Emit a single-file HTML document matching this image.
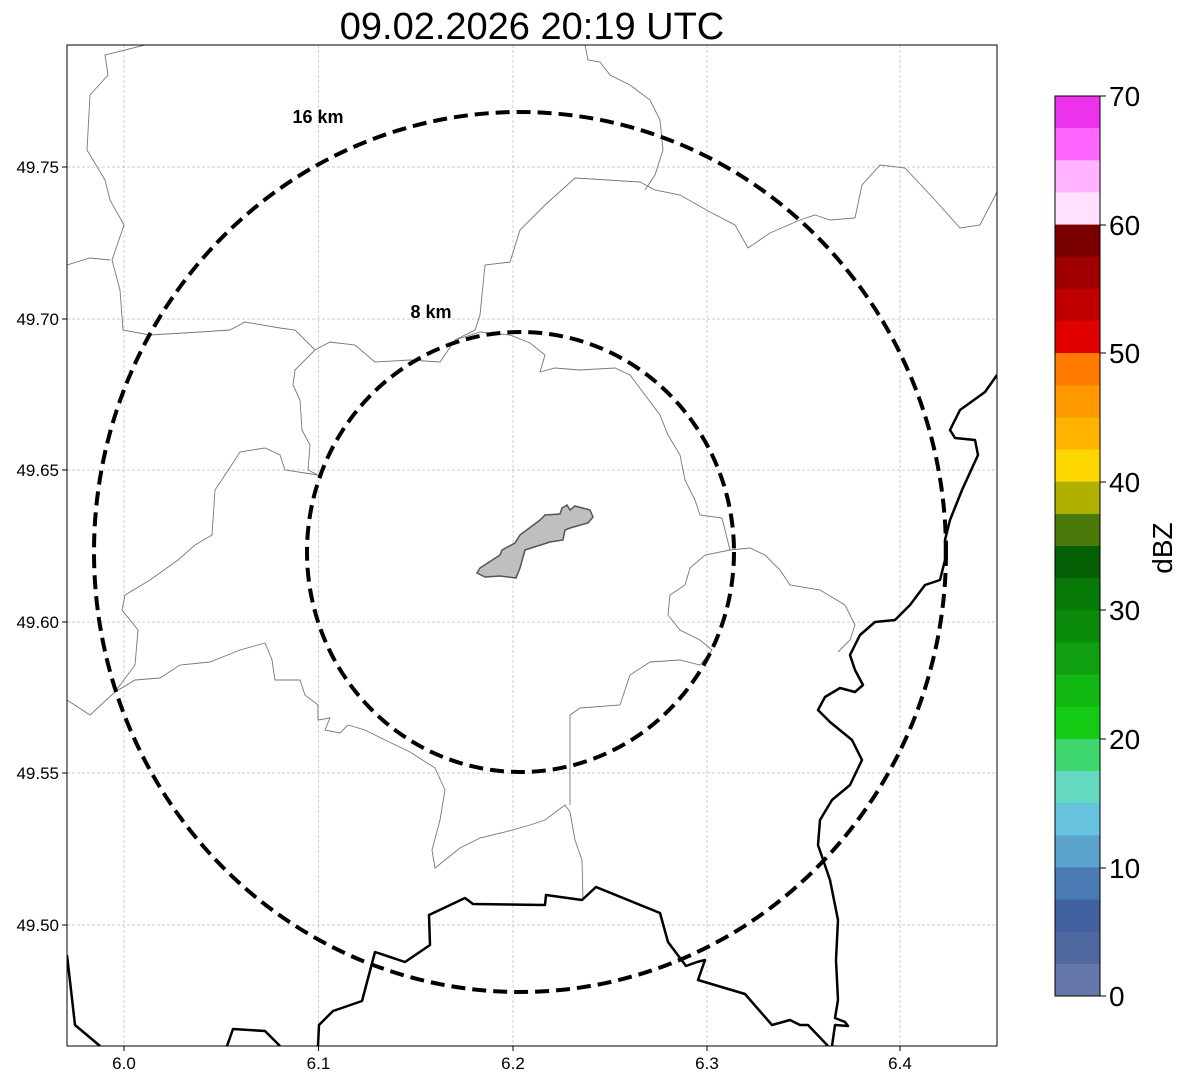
<!DOCTYPE html>
<html><head><meta charset="utf-8"><style>body{margin:0;background:#fff}svg{display:block}text{font-family:"Liberation Sans",sans-serif}</style></head><body>
<svg width="1188" height="1084" viewBox="0 0 1188 1084">
<defs><clipPath id="c"><rect x="67" y="45" width="930" height="1001"/></clipPath></defs>
<text x="532" y="39" font-size="38" text-anchor="middle">09.02.2026 20:19 UTC</text>
<g stroke="#bbb" stroke-width="0.7" stroke-dasharray="3,2">
<line x1="124" y1="45" x2="124" y2="1046"/><line x1="318.5" y1="45" x2="318.5" y2="1046"/><line x1="513" y1="45" x2="513" y2="1046"/><line x1="707" y1="45" x2="707" y2="1046"/><line x1="900" y1="45" x2="900" y2="1046"/>
<line x1="67" y1="167" x2="997" y2="167"/><line x1="67" y1="319" x2="997" y2="319"/><line x1="67" y1="470" x2="997" y2="470"/><line x1="67" y1="622" x2="997" y2="622"/><line x1="67" y1="773" x2="997" y2="773"/><line x1="67" y1="925" x2="997" y2="925"/>
</g>
<g clip-path="url(#c)" fill="none">
<g stroke="#777" stroke-width="0.9">
<polyline points="145,45 105,55 108,75 90,95 87,150 105,180 110,200 124,225 112,260 120,290 123,330 150,335 200,332 230,330 245,322 280,328 295,330 315,350 330,342 355,345 375,362 410,360 440,362 455,340 475,330 480,315 485,265 510,262 520,230 545,205 575,178 640,182 655,190 680,195 710,212 735,225 748,248 770,233 800,220 815,215 830,220 855,218 862,185 880,165 905,168 935,200 960,228 980,225 997,192"/>
<polyline points="67,265 90,258 110,260"/>
<polyline points="585,45 588,60 600,62 610,75 630,85 650,100 660,120 663,150 655,175 645,190"/>
<polyline points="315,350 295,370 293,385 300,400 302,430 310,445 308,470 318,475"/>
<polyline points="318,475 285,470 280,455 265,448 240,452 225,475 215,490 212,535 195,545 178,560 150,580 125,595 122,610 138,630 135,665 115,692 90,715 67,700"/>
<polyline points="115,692 135,680 160,678 180,665 210,662 240,650 265,643 268,650 272,660 275,680 300,680 305,695 318,705 318,720 330,718 325,730 340,733 348,725 365,730 385,740 410,752 435,768 445,790 440,820 432,850 435,868 460,848 480,838 505,832 530,825 545,820 565,805 570,812 575,840 582,860 583,900"/>
<polyline points="570,805 570,760 570,715 580,708 620,705 630,675 650,662 680,660 700,665 712,650 700,640 680,630 668,615 670,595 685,585 690,568 705,555 730,550 750,548 765,555 780,570 790,585 820,590 845,605 855,625 850,640 838,652"/>
<polyline points="455,340 480,332 510,335 530,343 545,355 540,372 555,368 580,370 615,368 630,375 645,395 660,415 668,435 680,455 685,480 695,500 700,515 722,518 730,550"/>
</g>
<g stroke="#000" stroke-width="2.5" stroke-linejoin="round">
<polyline points="67,955 75,1025 100,1046"/>
<polyline points="318,1046 319,1025 333,1011 362,1001 375,952 405,962 430,945 429,915 465,898 473,904 545,905 546,895 582,900 596,887 660,913 668,942 686,966 697,962 705,960 698,980 745,994 772,1025 790,1020 800,1025 808,1025 828,1046"/>
<polyline points="227,1046 233,1029 265,1031 280,1046"/>
<polyline points="997,375 985,392 960,410 950,430 955,438 975,440 978,455 962,490 950,520 945,540 945,560 940,580 925,585 910,605 895,620 875,622 860,635 850,655 855,670 863,685 855,692 840,688 825,697 818,710 830,722 852,740 862,760 850,785 832,800 820,820 818,845 830,880 838,920 836,960 838,1000 835,1018 845,1022 848,1026 835,1025 832,1046"/>
</g>
<polygon points="477,573 480,568 500,555 502,550 515,543 520,535 540,520 545,515 560,514 562,508 567,505 570,510 575,506 590,510 593,517 588,523 570,528 565,530 563,540 550,542 525,550 520,568 516,578 500,576 485,577" fill="#bfbfbf" stroke="#555" stroke-width="1.5"/>
<ellipse cx="520" cy="552" rx="426" ry="440" stroke="#000" stroke-width="4" stroke-dasharray="14,7"/>
<ellipse cx="520.5" cy="552" rx="213.5" ry="220" stroke="#000" stroke-width="4" stroke-dasharray="14,7"/>
</g>
<text x="318" y="123" font-size="18" font-weight="bold" text-anchor="middle">16 km</text>
<text x="431" y="318" font-size="18" font-weight="bold" text-anchor="middle">8 km</text>
<rect x="67" y="45" width="930" height="1001" fill="none" stroke="#000" stroke-width="1"/>
<g stroke="#000" stroke-width="1">
<line x1="62" y1="167" x2="67" y2="167"/><line x1="62" y1="319" x2="67" y2="319"/><line x1="62" y1="470" x2="67" y2="470"/><line x1="62" y1="622" x2="67" y2="622"/><line x1="62" y1="773" x2="67" y2="773"/><line x1="62" y1="925" x2="67" y2="925"/>
<line x1="124" y1="1046" x2="124" y2="1051"/><line x1="318.5" y1="1046" x2="318.5" y2="1051"/><line x1="513" y1="1046" x2="513" y2="1051"/><line x1="707" y1="1046" x2="707" y2="1051"/><line x1="900" y1="1046" x2="900" y2="1051"/>
</g>
<g font-size="17" text-anchor="end">
<text x="59" y="173">49.75</text><text x="59" y="325">49.70</text><text x="59" y="476">49.65</text><text x="59" y="628">49.60</text><text x="59" y="779">49.55</text><text x="59" y="931">49.50</text>
</g>
<g font-size="17" text-anchor="middle">
<text x="124" y="1069">6.0</text><text x="318.5" y="1069">6.1</text><text x="513" y="1069">6.2</text><text x="707" y="1069">6.3</text><text x="900" y="1069">6.4</text>
</g>
<g stroke="none">
<rect x="1055" y="96.0" width="45" height="33" fill="#ee33ee"/>
<rect x="1055" y="128.1" width="45" height="33" fill="#ff66ff"/>
<rect x="1055" y="160.3" width="45" height="33" fill="#ffb3ff"/>
<rect x="1055" y="192.4" width="45" height="33" fill="#ffe0ff"/>
<rect x="1055" y="224.6" width="45" height="33" fill="#7a0000"/>
<rect x="1055" y="256.7" width="45" height="33" fill="#a00000"/>
<rect x="1055" y="288.9" width="45" height="33" fill="#c00000"/>
<rect x="1055" y="321.0" width="45" height="33" fill="#e00000"/>
<rect x="1055" y="353.1" width="45" height="33" fill="#ff7a00"/>
<rect x="1055" y="385.3" width="45" height="33" fill="#ff9900"/>
<rect x="1055" y="417.4" width="45" height="33" fill="#ffb300"/>
<rect x="1055" y="449.6" width="45" height="33" fill="#ffd700"/>
<rect x="1055" y="481.7" width="45" height="33" fill="#b0b000"/>
<rect x="1055" y="513.9" width="45" height="33" fill="#4a7a0a"/>
<rect x="1055" y="546.0" width="45" height="33" fill="#055f05"/>
<rect x="1055" y="578.1" width="45" height="33" fill="#087a08"/>
<rect x="1055" y="610.3" width="45" height="33" fill="#0a8a0a"/>
<rect x="1055" y="642.4" width="45" height="33" fill="#0fa00f"/>
<rect x="1055" y="674.6" width="45" height="33" fill="#12b812"/>
<rect x="1055" y="706.7" width="45" height="33" fill="#14cc14"/>
<rect x="1055" y="738.9" width="45" height="33" fill="#3dd66f"/>
<rect x="1055" y="771.0" width="45" height="33" fill="#66d9c2"/>
<rect x="1055" y="803.1" width="45" height="33" fill="#66c2dd"/>
<rect x="1055" y="835.3" width="45" height="33" fill="#5aa3cc"/>
<rect x="1055" y="867.4" width="45" height="33" fill="#4a7ab3"/>
<rect x="1055" y="899.6" width="45" height="33" fill="#4060a0"/>
<rect x="1055" y="931.7" width="45" height="33" fill="#5068a0"/>
<rect x="1055" y="963.9" width="45" height="32.1" fill="#6678aa"/>
</g>
<rect x="1055" y="96" width="45" height="900" fill="none" stroke="#000" stroke-width="1"/>
<g stroke="#000" stroke-width="1">
<line x1="1100" y1="96" x2="1106" y2="96"/><line x1="1100" y1="225" x2="1106" y2="225"/><line x1="1100" y1="353" x2="1106" y2="353"/><line x1="1100" y1="482" x2="1106" y2="482"/><line x1="1100" y1="610" x2="1106" y2="610"/><line x1="1100" y1="739" x2="1106" y2="739"/><line x1="1100" y1="868" x2="1106" y2="868"/><line x1="1100" y1="996" x2="1106" y2="996"/>
</g>
<g font-size="28">
<text x="1109" y="106">70</text><text x="1109" y="235">60</text><text x="1109" y="363">50</text><text x="1109" y="492">40</text><text x="1109" y="620">30</text><text x="1109" y="749">20</text><text x="1109" y="878">10</text><text x="1109" y="1006">0</text>
</g>
<text x="1172" y="548" font-size="28" text-anchor="middle" transform="rotate(-90 1172 548)">dBZ</text>
</svg>
</body></html>
